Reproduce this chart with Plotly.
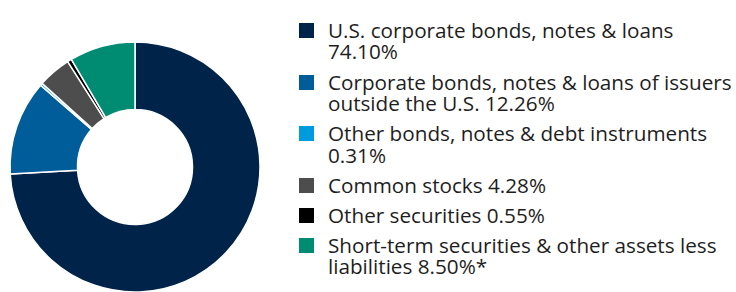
import plotly.graph_objects as go

categories = [
    "U.S. corporate bonds, notes & loans",
    "Corporate bonds, notes & loans of issuers outside the U.S.",
    "Other bonds, notes & debt instruments",
    "Common stocks",
    "Other securities",
    "Short-term securities & other assets less liabilities",
]
values = [74.10, 12.26, 0.31, 4.28, 0.55, 8.50]
legend_lines = [
    ["U.S. corporate bonds, notes & loans", "74.10%"],
    ["Corporate bonds, notes & loans of issuers", "outside the U.S. 12.26%"],
    ["Other bonds, notes & debt instruments", "0.31%"],
    ["Common stocks 4.28%"],
    ["Other securities 0.55%"],
    ["Short-term securities & other assets less", "liabilities 8.50%*"],
]
colors = ["#00234A", "#005D9A", "#009BDE", "#4D4D4D", "#000000", "#008C72"]

W, H = 736, 292
FONT = "Open Sans"
FS = 20.7

fig = go.Figure()
fig.add_trace(go.Pie(
    labels=categories, values=values, hole=0.46, sort=False,
    direction="clockwise", rotation=0, textinfo="none", hoverinfo="label+percent",
    marker=dict(colors=colors, line=dict(color="white", width=1.5)),
    domain=dict(x=[10 / W, 260 / W], y=[0, 250 / H]),
    showlegend=False,
))

# legend layout (pixel positions from top)
baselines = [[37, 58], [89, 110], [140, 162], [192], [222], [252, 273]]
shapes = []
annotations = []
for i, lines in enumerate(legend_lines):
    b0 = baselines[i][0]
    shapes.append(dict(type="rect", xref="paper", yref="paper",
                       x0=299 / W, x1=314 / W, y0=1 - (b0 + 1) / H, y1=1 - (b0 - 14) / H,
                       fillcolor=colors[i], line=dict(width=0)))
    for j, line in enumerate(lines):
        b = baselines[i][j]
        annotations.append(dict(x=326 / W, y=1 - (b - 7) / H, xref="paper", yref="paper",
                                xanchor="left", yanchor="middle", showarrow=False,
                                text=line, font=dict(family=FONT, size=FS, color="#1e1e1e")))

fig.update_layout(width=W, height=H, margin=dict(l=0, r=0, t=0, b=0),
                  paper_bgcolor="white", plot_bgcolor="white",
                  shapes=shapes, annotations=annotations)
fig.write_html("out.html", config={"displayModeBar": False},
               post_script="document.body.style.margin='0';document.body.style.padding='0';")
